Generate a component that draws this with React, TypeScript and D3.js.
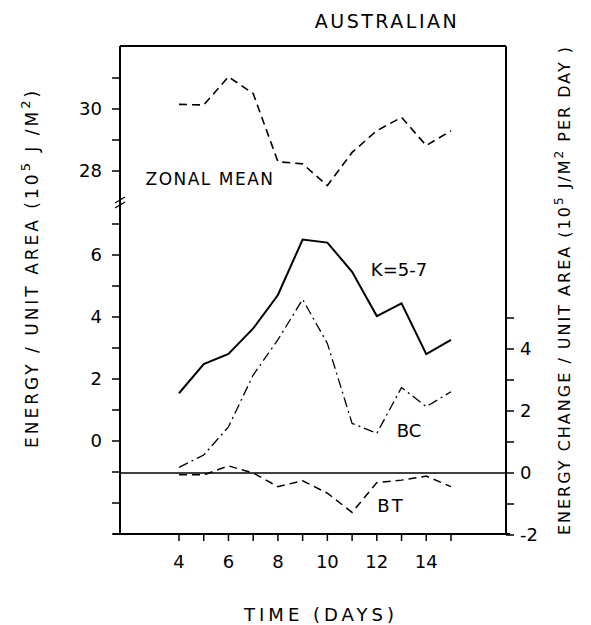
import React from "react";
import * as d3 from "d3";

// days along the x axis
const days = [4, 5, 6, 7, 8, 9, 10, 11, 12, 13, 14, 15];
const dayTicks = [4, 6, 8, 10, 12, 14];

// energy per unit area (10^5 J/m^2)
const zonalMean = [30.15, 30.13, 31.04, 30.5, 28.3, 28.23, 27.53, 28.6, 29.3, 29.73, 28.82, 29.3];
const eddyK57 = [1.54, 2.48, 2.81, 3.63, 4.71, 6.5, 6.4, 5.46, 4.03, 4.44, 2.8, 3.26];

// energy change per unit area (10^5 J/m^2 per day)
const bcConv = [0.18, 0.58, 1.49, 3.16, 4.3, 5.6, 4.18, 1.6, 1.28, 2.76, 2.14, 2.62];
const btConv = [-0.06, -0.06, 0.23, 0.0, -0.44, -0.25, -0.65, -1.27, -0.31, -0.23, -0.1, -0.44];

const upperTicks = [28, 29, 30, 31];
const upperLabels = [28, 30];
const lowerTicks = [-3, -2, -1, 0, 1, 2, 3, 4, 5, 6, 7];
const lowerLabels = [0, 2, 4, 6];
const rightTicks = [-2, -1, 0, 1, 2, 3, 4, 5];
const rightLabels = [-2, 0, 2, 4];

const W = 591, H = 625;
const left = 120, right = 506, top = 46, bottom = 534;

export default function App() {
  const x = d3.scaleLinear().domain([4, 15]).range([179, 451]);
  const yTop = d3.scaleLinear().domain([28, 30]).range([171, 109]);
  const yLeft = d3.scaleLinear().domain([0, 6]).range([441, 255]);
  const yRight = d3.scaleLinear().domain([0, 4]).range([473, 349]);

  const line = (vals: number[], y: d3.ScaleLinear<number, number>) =>
    d3.line<number>().x((_, i) => x(days[i])).y((d) => y(d))(vals) || "";

  const font = "'DejaVu Sans', sans-serif";
  const breakY = yTop(27);

  return (
    <svg width={W} height={H} style={{ position: "absolute", left: 0, top: 0, background: "#fff" }}>
      <g fill="none" stroke="#000">
        {/* frame */}
        <line x1={left} x2={right} y1={top} y2={top} strokeWidth={2} />
        <line x1={left - 7} x2={right + 4} y1={bottom} y2={bottom} strokeWidth={2} />
        <line x1={left} x2={left} y1={top} y2={bottom} strokeWidth={2} />
        <line x1={right} x2={right} y1={top} y2={bottom} strokeWidth={2} />
        {/* zero line of the right axis */}
        <line x1={left} x2={right} y1={yRight(0)} y2={yRight(0)} strokeWidth={1.5} />
        {/* axis break */}
        <line x1={left - 5} x2={left + 5} y1={breakY + 1} y2={breakY - 5} strokeWidth={1.3} />
        <line x1={left - 5} x2={left + 5} y1={breakY + 6} y2={breakY} strokeWidth={1.3} />

        {upperTicks.map((t) => (
          <line key={"u" + t} x1={left - 8} x2={left} y1={yTop(t)} y2={yTop(t)} strokeWidth={1.5} />
        ))}
        {lowerTicks.map((t) => (
          <line key={"l" + t} x1={left - 8} x2={left} y1={yLeft(t)} y2={yLeft(t)} strokeWidth={1.5} />
        ))}
        {rightTicks.map((t) => (
          <line key={"r" + t} x1={right} x2={right + 8} y1={yRight(t)} y2={yRight(t)} strokeWidth={1.5} />
        ))}
        {days.map((d) => (
          <line key={"x" + d} x1={x(d)} x2={x(d)} y1={bottom} y2={bottom + 7} strokeWidth={1.5} />
        ))}

        {/* series */}
        <path d={line(zonalMean, yTop)} strokeWidth={1.6} strokeDasharray="8 5" />
        <path d={line(eddyK57, yLeft)} strokeWidth={2} />
        <path d={line(bcConv, yRight)} strokeWidth={1.3} strokeDasharray="10 4 2 4" />
        <path d={line(btConv, yRight)} strokeWidth={1.5} strokeDasharray="8 5" />
      </g>

      <g fontFamily={font} fontSize={18} fill="#000">
        {upperLabels.map((t) => (
          <text key={"ul" + t} x={left - 18} y={yTop(t)} dy="0.36em" textAnchor="end">{t}</text>
        ))}
        {lowerLabels.map((t) => (
          <text key={"ll" + t} x={left - 18} y={yLeft(t)} dy="0.36em" textAnchor="end">{t}</text>
        ))}
        {rightLabels.map((t) => (
          <text key={"rl" + t} x={right + 14} y={yRight(t)} dy="0.36em" textAnchor="start">
            {t < 0 ? "-" + Math.abs(t) : t}
          </text>
        ))}
        {dayTicks.map((d) => (
          <text key={"xl" + d} x={x(d)} y={bottom + 34} textAnchor="middle">{d}</text>
        ))}

        <text x={387} y={28} textAnchor="middle" fontSize={19} letterSpacing={2.5}>AUSTRALIAN</text>
        <text x={210} y={185} textAnchor="middle" fontSize={17} letterSpacing={1.5}>ZONAL MEAN</text>
        <text x={399} y={276} textAnchor="middle" fontSize={18}>K=5-7</text>
        <text x={409} y={437} textAnchor="middle" fontSize={18}>BC</text>
        <text x={391} y={512} textAnchor="middle" fontSize={18} letterSpacing={2}>BT</text>
        <text x={321} y={621} textAnchor="middle" fontSize={18} letterSpacing={4}>
          TIME  (DAYS)
        </text>

        <text transform="translate(38,268) rotate(-90)" textAnchor="middle" fontSize={17} letterSpacing={3}>
          ENERGY / UNIT AREA  (10<tspan dy="-8" fontSize={13}>5</tspan><tspan dy="8"> J /M</tspan>
          <tspan dy="-8" fontSize={13}>2</tspan><tspan dy="8">)</tspan>
        </text>
        <text transform="translate(570,290) rotate(-90)" textAnchor="middle" fontSize={16} letterSpacing={2}>
          ENERGY CHANGE / UNIT AREA  (10<tspan dy="-7" fontSize={12}>5</tspan><tspan dy="7"> J/M</tspan>
          <tspan dy="-7" fontSize={12}>2</tspan><tspan dy="7"> PER DAY )</tspan>
        </text>
      </g>
    </svg>
  );
}
